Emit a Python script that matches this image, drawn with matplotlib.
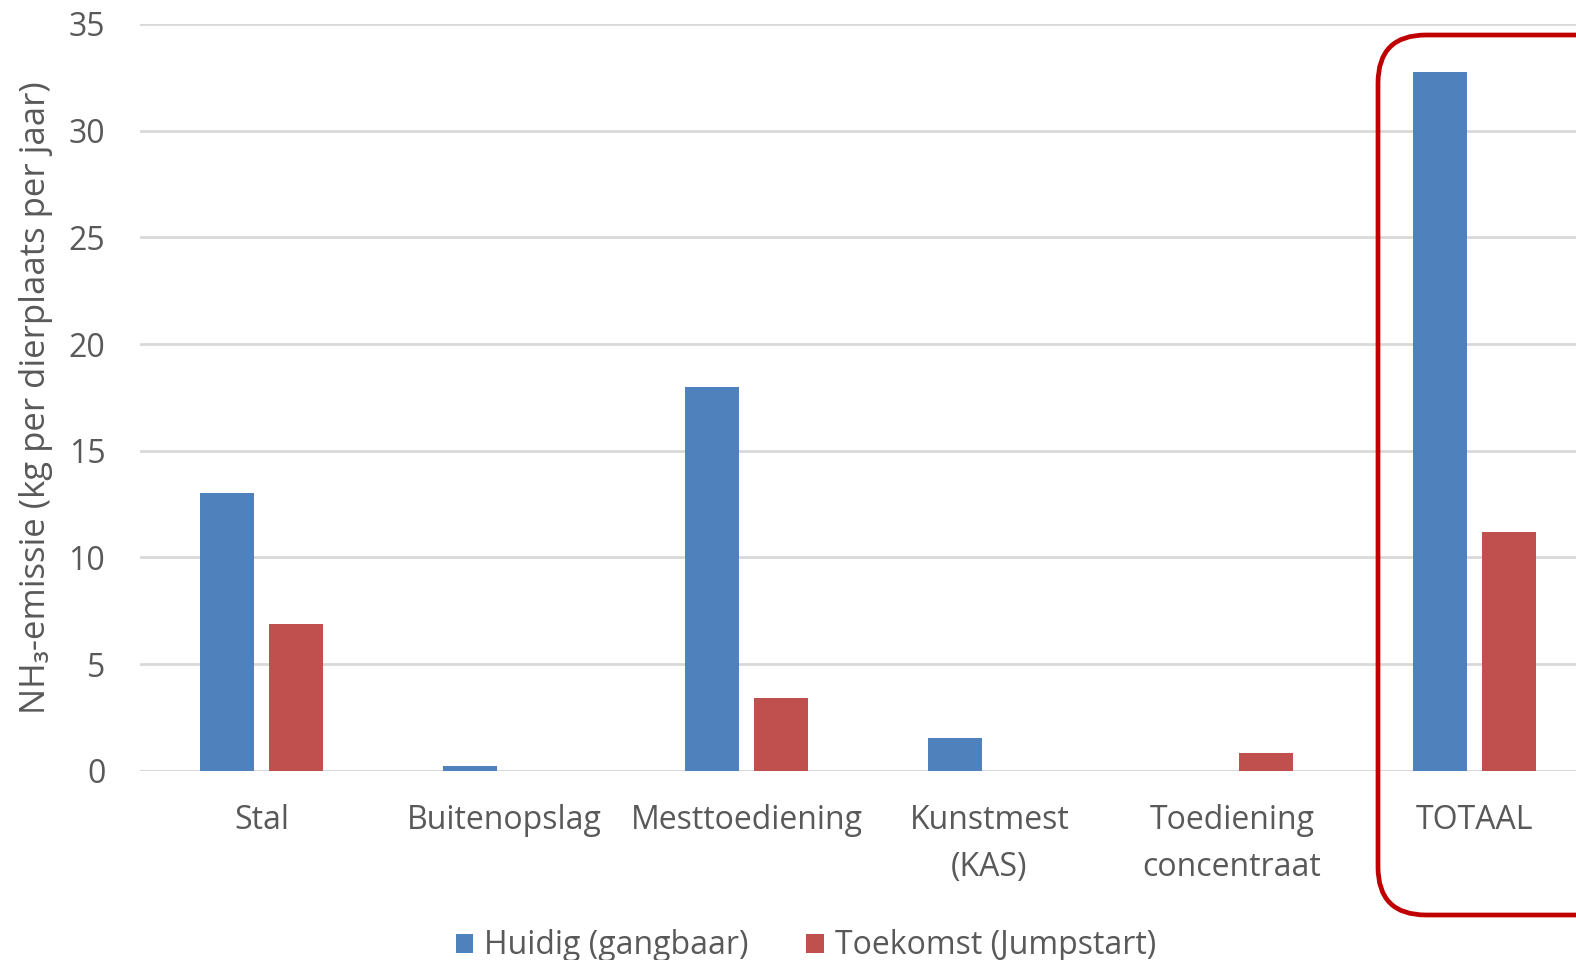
import matplotlib
matplotlib.use("Agg")
import matplotlib.pyplot as plt
from matplotlib.patches import FancyBboxPatch
from matplotlib.transforms import IdentityTransform
import numpy as np

categories = ["Stal", "Buitenopslag", "Mesttoediening", "Kunstmest\n(KAS)", "Toediening\nconcentraat", "TOTAAL"]
huidig = [13.0, 0.2, 18.0, 1.55, 0.0, 32.75]
toekomst = [6.88, 0.0, 3.4, 0.0, 0.85, 11.18]
series_names = ["Huidig (gangbaar)", "Toekomst (Jumpstart)"]
yticks = [0, 5, 10, 15, 20, 25, 30, 35]

plt.rcParams['font.family'] = ['Open Sans', 'DejaVu Sans']
txt = '#595959'

W, H = 1576, 960
fig = plt.figure(figsize=(W/100, H/100), dpi=100)
ax = fig.add_axes([140/W, 1-770.7/H, (1596-140)/W, (770.7-24)/H])

x = np.arange(len(categories))
w = 0.2225
off = 0.142
ax.bar(x - off, huidig, w, color='#4F81BD', label=series_names[0], zorder=3)
ax.bar(x + off, toekomst, w, color='#C0504D', label=series_names[1], zorder=3)

ax.set_xlim(-0.5, 5.5)
ax.set_ylim(0, 35)
ax.set_yticks(yticks)
ax.set_yticklabels([str(v) for v in yticks], fontsize=23, color=txt)
ax.set_xticks(x)
ax.set_xticklabels(categories, fontsize=23, color=txt, linespacing=1.55)
ax.tick_params(axis='both', length=0)
ax.tick_params(axis='y', pad=25)
ax.tick_params(axis='x', pad=24)
for s in ax.spines.values():
    s.set_visible(False)
ax.grid(axis='y', color='#D9D9D9', linewidth=2, zorder=0)
ax.axhline(0, color='#D9D9D9', linewidth=2.2, zorder=2)

fig.text(36/W, 1-398/H, 'NH₃-emissie (kg per dierplaats per jaar)', rotation=90,
         ha='center', va='center', fontsize=25, color=txt)

fig.legend(loc='center', bbox_to_anchor=(806/W, 1-946/H), ncol=2, frameon=False,
           fontsize=23, handlelength=0.55, handleheight=0.55, handletextpad=0.35,
           columnspacing=1.8, labelcolor=txt)

box = FancyBboxPatch((1378, H-915), 260, 915-35,
                     boxstyle="round,pad=0,rounding_size=48",
                     transform=IdentityTransform(), fill=False, edgecolor='#C00000',
                     linewidth=3.4, clip_on=False)
fig.patches.append(box)

fig.savefig('out.png', dpi=100)
